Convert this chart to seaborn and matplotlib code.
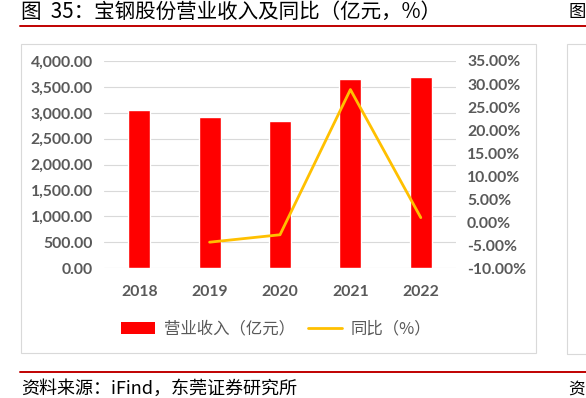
import numpy as np
import pandas as pd
import matplotlib
matplotlib.use("Agg")
import matplotlib.pyplot as plt
import seaborn as sns
from matplotlib.patches import Rectangle, Patch
from matplotlib.lines import Line2D
from matplotlib.ticker import FuncFormatter, MultipleLocator

# data
years = ["2018", "2019", "2020", "2021", "2022"]
revenue = [3047.8, 2915.9, 2836.6, 3653.4, 3690.0]   # 亿元
yoy_years = ["2019", "2020", "2021", "2022"]
yoy = [-4.33, -2.72, 28.80, 1.00]                     # %

title = "图  35：宝钢股份营业收入及同比（亿元，%）"
source = "资料来源：iFind，东莞证券研究所"
bar_label = "营业收入（亿元）"
line_label = "同比（%）"

sns.set_theme(style="white")
plt.rcParams["font.family"] = ["Noto Sans CJK SC", "DejaVu Sans"]

GREY = "#595959"
GRID = "#D9D9D9"
RED = "#FF0000"
GOLD = "#FFC000"
DARKRED = "#C00000"

fig = plt.figure(figsize=(5.86, 3.98), dpi=100)
ax = fig.add_axes([104/586, 1 - 268.3/398, 352/586, 207.3/398])

df = pd.DataFrame({"year": years, "revenue": revenue})
sns.barplot(data=df, x="year", y="revenue", order=years, color=RED,
            width=0.31, saturation=1, ax=ax)
ax.set_ylim(0, 4000)
ax.set_xlim(-0.5, len(years) - 0.5)
ax.yaxis.set_major_locator(MultipleLocator(500))
ax.yaxis.set_major_formatter(FuncFormatter(lambda v, p: f"{v:,.2f}"))
ax.grid(axis="y", color=GRID, lw=0.8)
ax.set_axisbelow(True)
ax.set_xlabel(""); ax.set_ylabel("")

ax2 = ax.twinx()
pos = [years.index(y) for y in yoy_years]
sns.lineplot(x=pos, y=np.array(yoy) / 100, color=GOLD, lw=2.0, ax=ax2)
ax2.set_ylim(-0.10, 0.35)
ax2.yaxis.set_major_locator(MultipleLocator(0.05))
ax2.yaxis.set_major_formatter(FuncFormatter(lambda v, p: f"{v*100:.2f}%"))
ax2.grid(False)

for a in (ax, ax2):
    for s in a.spines.values():
        s.set_visible(False)
    a.tick_params(length=0, colors=GREY)
    for lab in a.get_yticklabels() + a.get_xticklabels():
        lab.set_family("Lato"); lab.set_fontweight("bold"); lab.set_fontsize(11.3)
ax.tick_params(axis="y", pad=8)
ax2.tick_params(axis="y", pad=8)
ax.tick_params(axis="x", pad=12)

handles = [Patch(facecolor=RED, edgecolor="none"),
           Line2D([0], [0], color=GOLD, lw=2.0)]
fig.legend(handles, [bar_label, line_label], loc="center",
           bbox_to_anchor=(276/586, 1 - 329/398), ncol=2, frameon=False,
           fontsize=11.8, labelcolor=GREY, handlelength=2.1, handleheight=0.75,
           handletextpad=0.5, columnspacing=0.8)

# chart frame and the neighbouring panel's frame
fig.add_artist(Rectangle((21/586, 1 - 353/398), 515/586, 309/398,
                         transform=fig.transFigure, fill=False, ec=GRID, lw=0.8))
fig.add_artist(Rectangle((567/586, 1 - 354/398), 0.2, 310/398,
                         transform=fig.transFigure, fill=False, ec=GRID, lw=0.8))

# title, rules and source
fig.add_artist(Line2D([20/586, 1], [1 - 26/398] * 2, transform=fig.transFigure,
                      color=DARKRED, lw=1.4))
fig.add_artist(Line2D([20/586, 1], [1 - 372/398] * 2, transform=fig.transFigure,
                      color=DARKRED, lw=1.4))
fig.text(21/586, 1 - 12/398, title, ha="left", va="center", fontsize=14.8, color="black")
fig.text(568/586, 1 - 12/398, "图", ha="left", va="center", fontsize=12.5, color="black")
fig.text(21/586, 1 - 389/398, source, ha="left", va="center", fontsize=13, color="black")
fig.text(568/586, 1 - 389/398, "资", ha="left", va="center", fontsize=12, color="black")

fig.savefig("out.png", dpi=100)
